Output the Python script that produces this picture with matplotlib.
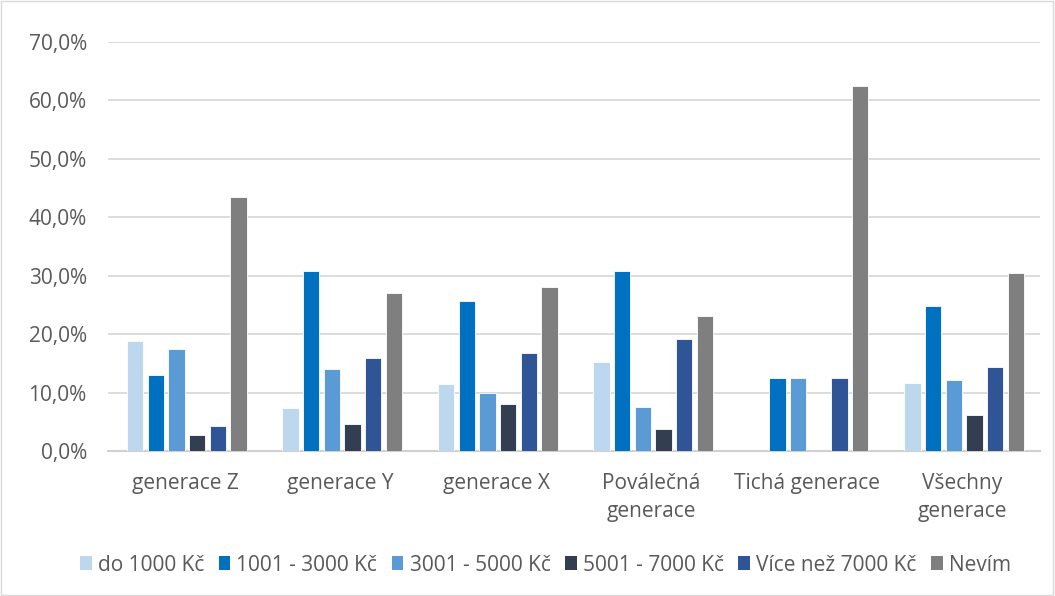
import numpy as np
import matplotlib
matplotlib.use('Agg')
import matplotlib.pyplot as plt
from matplotlib.patches import Patch, Rectangle
from matplotlib.ticker import FuncFormatter, MultipleLocator

# data (shares of respondents)
categories = ['generace Z', 'generace Y', 'generace X', 'Poválečná\ngenerace',
              'Tichá generace', 'Všechny\ngenerace']
series_names = ['do 1000 Kč', '1001 - 3000 Kč', '3001 - 5000 Kč', '5001 - 7000 Kč',
                'Více než 7000 Kč', 'Nevím']
do_1000 = [18.8, 7.4, 11.4, 15.3, 0.0, 11.7]
od_1001 = [13.0, 30.8, 25.6, 30.8, 12.5, 24.8]
od_3001 = [17.4, 14.0, 10.0, 7.6, 12.5, 12.2]
od_5001 = [2.8, 4.6, 8.0, 3.8, 0.0, 6.1]
nad_7000 = [4.3, 15.9, 16.7, 19.2, 12.5, 14.4]
nevim = [43.5, 27.1, 28.1, 23.1, 62.5, 30.5]
values = [do_1000, od_1001, od_3001, od_5001, nad_7000, nevim]

colors = ['#BDD7EE', '#0070C0', '#5B9BD5', '#333F50', '#2F5597', '#7F7F7F']

plt.rcParams['font.family'] = ['Open Sans', 'DejaVu Sans']
text_col = '#595959'

fig = plt.figure(figsize=(10.55, 5.96), dpi=100)
ax = fig.add_axes([0.102, 0.2433, 0.884, 0.6862])

x = np.arange(len(categories))
width = 0.105
step = 0.133
for i, (name, vals) in enumerate(zip(series_names, values)):
    offs = (i - 2.5) * step + 0.01
    ax.bar(x + offs, np.array(vals) / 100.0, width, color=colors[i],
           edgecolor='white', linewidth=0.6, label=name, zorder=3)

ax.set_xlim(-0.5, len(categories) - 0.5)
ax.set_ylim(0, 0.7)
ax.yaxis.set_major_locator(MultipleLocator(0.1))
ax.yaxis.set_major_formatter(FuncFormatter(lambda v, p: ('%.1f%%' % (v * 100)).replace('.', ',')))
ax.grid(axis='y', color='#D9D9D9', linewidth=1.3, zorder=0)
for s in ['top', 'right', 'left']:
    ax.spines[s].set_visible(False)
ax.spines['bottom'].set_color('#D0D0D0')
ax.spines['bottom'].set_linewidth(1.5)

ax.set_xticks(x)
ax.set_xticklabels(categories, linespacing=1.45)
ax.tick_params(axis='x', length=0, pad=16, labelsize=15, labelcolor=text_col)
ax.tick_params(axis='y', length=0, pad=15, labelsize=15, labelcolor=text_col)

handles = [Patch(facecolor=c, edgecolor='none') for c in colors]
fig.legend(handles, series_names, loc='center', bbox_to_anchor=(0.517, 0.052), ncol=6,
           frameon=False, fontsize=15, handlelength=0.55, handleheight=0.65,
           handletextpad=0.3, columnspacing=0.7, labelcolor=text_col)

fig.patches.append(Rectangle((0.001, 0.001), 0.997, 0.997, transform=fig.transFigure,
                             fill=False, edgecolor='#D9D9D9', linewidth=1))

fig.savefig('out.png', dpi=100)
